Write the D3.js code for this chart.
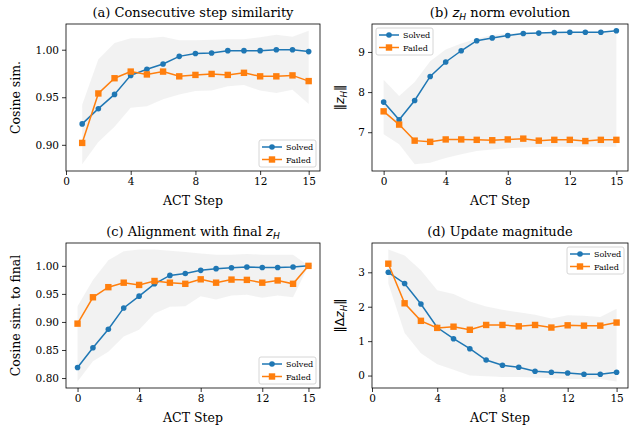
<!DOCTYPE html>
<head>
    <meta charset="utf-8">
    <script src="https://d3js.org/d3.v7.min.js"></script>
    <style>
        body { margin: 0; background: #fff; }
        svg text { font-family: "DejaVu Serif", serif; fill: #000; }
    </style>
</head>
<body>
<div id="chart"></div>
<script>
// ---- data ----
var steps1 = [1, 2, 3, 4, 5, 6, 7, 8, 9, 10, 11, 12, 13, 14, 15]
var steps0 = [0, 1, 2, 3, 4, 5, 6, 7, 8, 9, 10, 11, 12, 13, 14, 15]
var xTicks = [0, 4, 8, 12, 15]

// (a) consecutive step similarity
var consSolved = [0.922, 0.938, 0.953, 0.973, 0.9795, 0.985, 0.993, 0.996, 0.9965, 0.999, 0.999, 0.999, 1.000, 1.000, 0.998]
var consFailed = [0.902, 0.954, 0.970, 0.977, 0.974, 0.977, 0.972, 0.9735, 0.9745, 0.9735, 0.9757, 0.972, 0.972, 0.973, 0.967]
var consHi = [0.942, 0.990, 1.007, 1.012, 1.012, 1.0135, 1.010, 1.010, 1.0105, 1.011, 1.011, 1.013, 1.0156, 1.0135, 1.020]
var consLo = [0.8795, 0.903, 0.919, 0.939, 0.9406, 0.948, 0.953, 0.9566, 0.957, 0.9615, 0.963, 0.957, 0.9545, 0.958, 0.943]

// (b) z_H norm
var normSolved = [7.75, 7.31, 7.79, 8.39, 8.75, 9.03, 9.28, 9.35, 9.41, 9.46, 9.47, 9.485, 9.49, 9.49, 9.49, 9.53]
var normFailed = [7.52, 7.19, 6.79, 6.76, 6.82, 6.82, 6.81, 6.80, 6.82, 6.84, 6.79, 6.81, 6.81, 6.78, 6.81, 6.81]
var normHi = [8.31, 7.90, 8.25, 8.77, 9.06, 9.21, 9.33, 9.42, 9.46, 9.48, 9.48, 9.49, 9.49, 9.49, 9.49, 9.48]
var normLo = [6.95, 6.70, 6.20, 6.24, 6.36, 6.45, 6.53, 6.57, 6.60, 6.62, 6.63, 6.64, 6.64, 6.64, 6.64, 6.64]

// (c) alignment with final z_H
var alignSolved = [0.8187, 0.854, 0.887, 0.925, 0.946, 0.968, 0.983, 0.9865, 0.992, 0.995, 0.9965, 0.998, 0.997, 0.997, 0.998, 1.000]
var alignFailed = [0.897, 0.944, 0.962, 0.970, 0.966, 0.973, 0.970, 0.968, 0.976, 0.970, 0.9755, 0.975, 0.970, 0.974, 0.968, 1.000]
var alignHi = [0.928, 0.975, 1.010, 1.026, 1.029, 1.029, 1.027, 1.0245, 1.022, 1.020, 1.020, 1.021, 1.020, 1.020, 1.020, 1.000]
var alignLo = [0.794, 0.830, 0.847, 0.874, 0.886, 0.915, 0.927, 0.928, 0.946, 0.940, 0.947, 0.9485, 0.943, 0.947, 0.944, 1.000]

// (d) update magnitude
var updSolved = [3.00, 2.675, 2.08, 1.395, 1.07, 0.78, 0.45, 0.30, 0.24, 0.125, 0.095, 0.076, 0.04, 0.04, 0.095]
var updFailed = [3.25, 2.10, 1.59, 1.385, 1.42, 1.33, 1.47, 1.47, 1.43, 1.47, 1.395, 1.46, 1.45, 1.45, 1.54]
var updHi = [3.66, 3.49, 3.06, 2.48, 2.37, 2.15, 2.01, 1.91, 1.84, 1.77, 1.66, 1.75, 1.74, 1.70, 1.94]
var updLo = [2.675, 1.24, 0.65, 0.33, 0.17, 0.0, -0.02, -0.04, -0.04, -0.06, -0.08, -0.10, -0.10, -0.10, -0.17]

var seriesNames = ["Solved", "Failed"]
var colors = { Solved: "#1f77b4", Failed: "#ff7f0e" }

var W = 632, H = 431
var svg = d3.select("#chart").append("svg").attr("width", W).attr("height", H)

var panels = [
    { box: [66, 24, 320, 171], x: steps1, xdom: [0, 15.7], s: consSolved, f: consFailed, hi: consHi, lo: consLo,
      yTicks: [0.90, 0.95, 1.00], fmt: d3.format(".2f"), legend: "lr",
      title: [{ t: "(a) Consecutive step similarity" }], ylab: [{ t: "Cosine sim." }], ylabX: 20 },
    { box: [372, 24, 628, 171], x: steps0, xdom: [-0.75, 15.75], s: normSolved, f: normFailed, hi: normHi, lo: normLo,
      yTicks: [7, 8, 9], fmt: d3.format("d"), legend: "ul",
      title: [{ t: "(b) " }, { t: "z", m: 1 }, { t: "H", m: 1, sub: 1 }, { t: " norm evolution" }],
      ylab: [{ t: "\u2016", m: 2 }, { t: "z", m: 1 }, { t: "H", m: 1, sub: 1 }, { t: "\u2016", m: 2 }], ylabX: 344 },
    { box: [66, 243, 320, 388], x: steps0, xdom: [-0.75, 15.75], s: alignSolved, f: alignFailed, hi: alignHi, lo: alignLo,
      yTicks: [0.80, 0.85, 0.90, 0.95, 1.00], fmt: d3.format(".2f"), legend: "lr",
      title: [{ t: "(c) Alignment with final " }, { t: "z", m: 1 }, { t: "H", m: 1, sub: 1 }],
      ylab: [{ t: "Cosine sim. to final" }], ylabX: 20 },
    { box: [372, 243, 628, 388], x: steps1, xdom: [0, 15.7], s: updSolved, f: updFailed, hi: updHi, lo: updLo,
      yTicks: [0, 1, 2, 3], fmt: d3.format("d"), legend: "ur",
      title: [{ t: "(d) Update magnitude" }],
      ylab: [{ t: "\u2016", m: 2 }, { t: "\u0394", m: 2 }, { t: "z", m: 1 }, { t: "H", m: 1, sub: 1 }, { t: "\u2016", m: 2 }], ylabX: 344 }
]

// mathtext-ish runs: m=1 italic sans, m=2 upright sans, sub = subscript
function richText(el, parts, size) {
    var shifted = false
    parts.forEach(function(p) {
        var ts = el.append("tspan").text(p.t)
        if (p.m) ts.style("font-family", "'DejaVu Sans', sans-serif")
        if (p.m === 1) ts.style("font-style", "italic")
        if (p.sub) {
            ts.attr("font-size", size * 0.7).attr("dy", size * 0.22)
            shifted = true
        } else if (shifted) {
            ts.attr("dy", -size * 0.22)
            shifted = false
        }
    })
}

panels.forEach(function(p) {
    var x0 = p.box[0], y0 = p.box[1], x1 = p.box[2], y1 = p.box[3]
    var all = p.hi.concat(p.lo, p.s, p.f)
    var ext = d3.extent(all), pad = (ext[1] - ext[0]) * 0.05
    var x = d3.scaleLinear().domain(p.xdom).range([x0, x1])
    var y = d3.scaleLinear().domain([ext[0] - pad, ext[1] + pad]).range([y1, y0])
    var g = svg.append("g")

    var idx = d3.range(p.x.length)
    g.append("path")
        .attr("d", d3.area().x(i => x(p.x[i])).y0(i => y(p.lo[i])).y1(i => y(p.hi[i]))(idx))
        .attr("fill", "#d3d3d3").attr("fill-opacity", 0.3)

    var line = d3.line().x(i => x(p.x[i]))
    ;[["Solved", p.s], ["Failed", p.f]].forEach(function(sr) {
        var c = colors[sr[0]], vals = sr[1]
        g.append("path").attr("d", line.y(i => y(vals[i]))(idx))
            .attr("fill", "none").attr("stroke", c).attr("stroke-width", 1.5)
        if (sr[0] === "Solved") {
            g.selectAll(null).data(idx).enter().append("circle")
                .attr("cx", i => x(p.x[i])).attr("cy", i => y(vals[i])).attr("r", 2.8).attr("fill", c)
        } else {
            g.selectAll(null).data(idx).enter().append("rect")
                .attr("x", i => x(p.x[i]) - 3.2).attr("y", i => y(vals[i]) - 3.2)
                .attr("width", 6.4).attr("height", 6.4).attr("fill", c)
        }
    })

    // axes
    var xa = g.append("g").attr("transform", "translate(0," + y1 + ")")
        .call(d3.axisBottom(x).tickValues(xTicks).tickSize(4).tickPadding(3))
    var ya = g.append("g").attr("transform", "translate(" + x0 + ",0)")
        .call(d3.axisLeft(y).tickValues(p.yTicks).tickFormat(p.fmt).tickSize(4).tickPadding(3))
    ;[xa, ya].forEach(function(a) {
        a.select(".domain").remove()
        a.selectAll("line").attr("stroke", "#000").attr("stroke-width", 0.8)
        a.selectAll("text").attr("font-size", 10.5).attr("font-family", "DejaVu Serif")
    })
    g.append("rect").attr("x", x0).attr("y", y0).attr("width", x1 - x0).attr("height", y1 - y0)
        .attr("fill", "none").attr("stroke", "#000").attr("stroke-width", 0.8)

    // titles and labels
    var tt = g.append("text").attr("x", (x0 + x1) / 2).attr("y", y0 - 7)
        .attr("text-anchor", "middle").attr("font-size", 13)
    richText(tt, p.title, 13)
    g.append("text").attr("x", (x0 + x1) / 2).attr("y", y1 + 34)
        .attr("text-anchor", "middle").attr("font-size", 12.5).text("ACT Step")
    var yl = g.append("text").attr("transform", "translate(" + p.ylabX + "," + ((y0 + y1) / 2) + ") rotate(-90)")
        .attr("text-anchor", "middle").attr("font-size", 12.5)
    richText(yl, p.ylab, 12.5)

    // legend
    var lw = 57, lh = 27, inset = 4
    var lx = p.legend === "ul" ? x0 + inset : x1 - inset - lw
    var ly = p.legend === "lr" ? y1 - inset - lh : y0 + inset
    var lg = g.append("g").attr("transform", "translate(" + lx + "," + ly + ")")
    lg.append("rect").attr("width", lw).attr("height", lh).attr("rx", 2)
        .attr("fill", "#fff").attr("fill-opacity", 0.8).attr("stroke", "#cccccc").attr("stroke-width", 0.8)
    seriesNames.forEach(function(name, k) {
        var cy = 7 + k * 12.5, c = colors[name]
        lg.append("line").attr("x1", 3).attr("x2", 23).attr("y1", cy).attr("y2", cy)
            .attr("stroke", c).attr("stroke-width", 1.5)
        if (k === 0) lg.append("circle").attr("cx", 13).attr("cy", cy).attr("r", 2.8).attr("fill", c)
        else lg.append("rect").attr("x", 9.8).attr("y", cy - 3.2).attr("width", 6.4).attr("height", 6.4).attr("fill", c)
        lg.append("text").attr("x", 27).attr("y", cy + 3).attr("font-size", 8).text(name)
    })
})
</script>
</body>
</html>
